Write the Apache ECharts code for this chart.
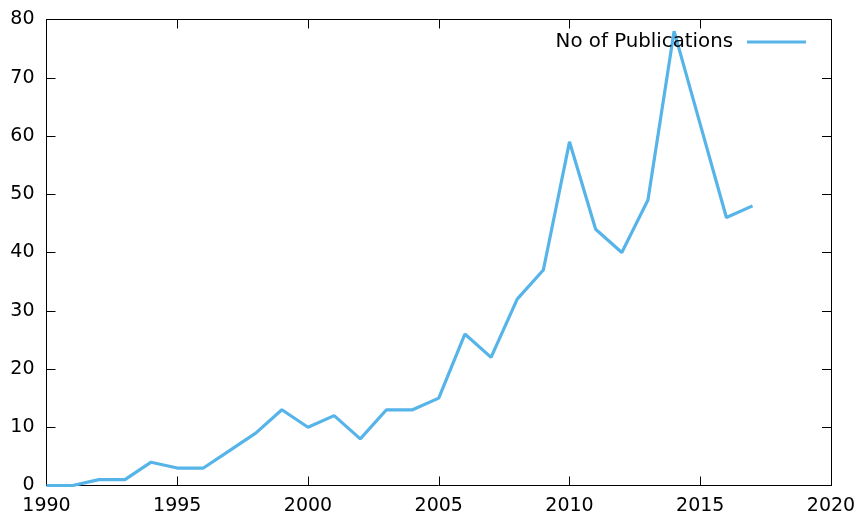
<!DOCTYPE html>
<html><head><meta charset="utf-8">
<script src="https://cdn.jsdelivr.net/npm/echarts@6/dist/echarts.min.js"></script>
<style>html,body{margin:0;padding:0;background:#fff}#c{width:860px;height:519px}</style>
</head><body><div id="c"></div>
<script>
const years = [1990,1991,1992,1993,1994,1995,1996,1997,1998,1999,2000,2001,2002,2003,2004,2005,2006,2007,2008,2009,2010,2011,2012,2013,2014,2015,2016,2017];
const publications = [0,0,1,1,4,3,3,6,9,13,10,12,8,13,13,15,26,22,32,37,59,44,40,49,78,62,46,48];
const seriesName = 'No of Publications';

const chart = echarts.init(document.getElementById('c'), null, {renderer:'canvas'});
const font = 'DejaVu Sans';
const axisBase = {
  type:'value',
  axisLine:{show:true, onZero:false, lineStyle:{color:'#000', width:1}},
  axisTick:{show:true, inside:true, length:9, lineStyle:{color:'#000', width:1}},
  splitLine:{show:false}
};
chart.setOption({
  animation:false,
  backgroundColor:'#fff',
  grid:{left:46.5, right:29, top:19.5, bottom:33.5},
  legend:{
    data:[{name:seriesName, icon:'rect'}], right:49, top:27, align:'right', itemWidth:59, itemHeight:3,
    textStyle:{fontFamily:font, fontSize:19.8, color:'#000', padding:[0,9,0,0]}
  },
  xAxis:[
    Object.assign({}, axisBase, {position:'bottom', min:1990, max:2020, interval:5,
      axisLabel:{fontFamily:font, fontSize:19, color:'#000', margin:11, formatter:v=>String(v)}}),
    Object.assign({}, axisBase, {position:'top', min:1990, max:2020, interval:5, axisLabel:{show:false}})
  ],
  yAxis:[
    Object.assign({}, axisBase, {position:'left', min:0, max:80, interval:10,
      axisLabel:{fontFamily:font, fontSize:19, color:'#000', margin:12, formatter:v=>String(v)}}),
    Object.assign({}, axisBase, {position:'right', min:0, max:80, interval:10, axisLabel:{show:false}})
  ],
  series:[{
    name:seriesName, type:'line', symbol:'none',
    data: years.map((y,i)=>[y, publications[i]]),
    lineStyle:{color:'#56b4e9', width:3.2},
    itemStyle:{color:'#56b4e9'}
  }]
});
</script></body></html>
